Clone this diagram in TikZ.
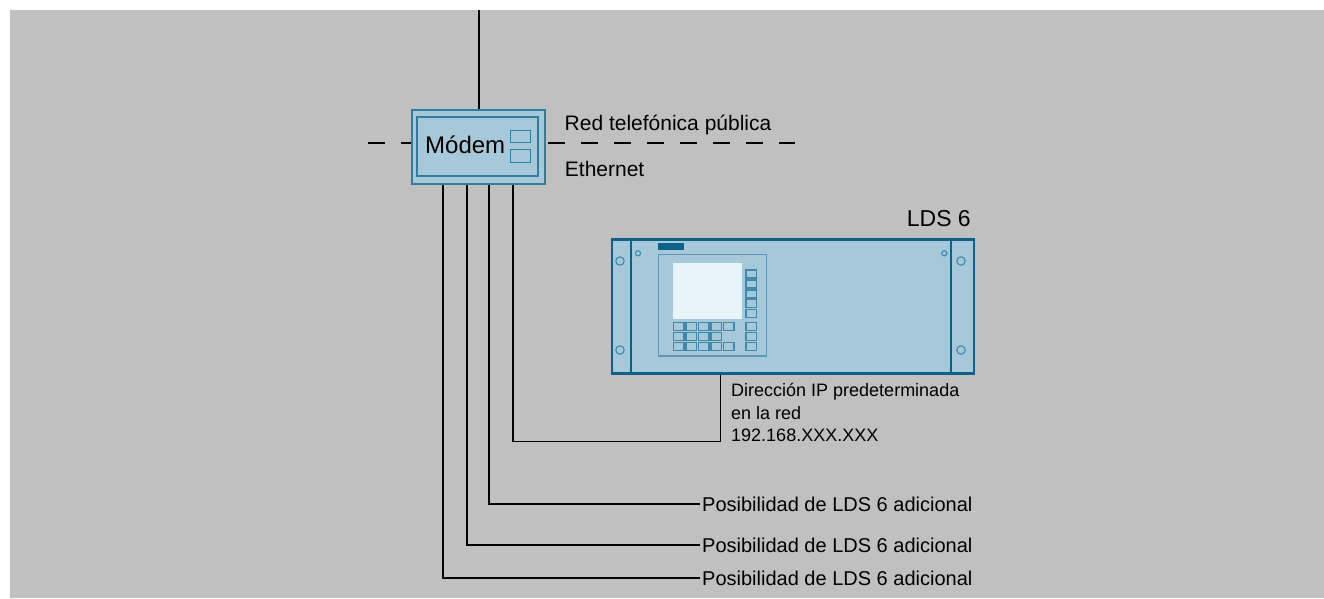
\documentclass[tikz,border=0pt]{standalone}
\usepackage{fontspec}
\setmainfont{Liberation Sans}
\begin{document}
\begin{tikzpicture}[x=1pt,y=-1pt]
\definecolor{bg}{HTML}{C0C0C0}
\definecolor{devfill}{HTML}{A6C8D8}
\definecolor{devedge}{HTML}{0B6188}
\definecolor{modemedge}{HTML}{2E7FA0}
\definecolor{keyedge}{HTML}{3F89AA}
\definecolor{paneledge}{HTML}{5C98B6}
\definecolor{screenfill}{HTML}{E7F5FA}
\tikzset{
  wire/.style={black, line width=1.3pt},
  txt/.style={inner sep=0pt, font=\fontsize{21}{25}\selectfont},
  optlbl/.style={inner xsep=2pt, inner ysep=0pt, anchor=west, font=\fontsize{20}{24}\selectfont},
  keybox/.style={draw=keyedge, line width=1.2pt},
  hole/.style={draw=keyedge, line width=1.1pt},
}
\useasboundingbox (0,0) rectangle (1324,598);
\fill[bg] (10,10) rectangle (1324,598);

% modem
\node[draw=modemedge, fill=devfill, line width=2pt, minimum width=133, minimum height=74,
      inner sep=0pt, anchor=north west] (modem) at (411,109) {};
\draw[modemedge, line width=2pt] (417,117) rectangle (538,176);
\draw[modemedge, line width=1.6pt] (510.5,130.5) rectangle (530.5,142.5)
                                   (510.5,149.5) rectangle (530.5,162.5);
\node[txt, anchor=base west, font=\fontsize{24}{28}\selectfont] (modemlbl) at (425,153.3) {Módem};

% uplink and telephone network
\draw[wire] ([xshift=68]modem.north west) -- ++(0,-99);
\coordinate (dl) at (368,143);
\coordinate (dr) at (795,143);
\draw[wire, dash pattern=on 17pt off 16pt] (dl) -- (dl -| modem.west);
\draw[wire, dash pattern=on 17pt off 16pt] ([xshift=2]dr -| modem.east) -- (dr);
\node[txt, anchor=base west] (pstn) at (564.5,130) {Red telefónica pública};
\node[txt, anchor=base west] (eth) at (564.7,176) {Ethernet};

% LDS 6 unit
\node[draw=devedge, fill=devfill, line width=2.4pt, minimum width=362, minimum height=134,
      inner sep=0pt, anchor=north west] (lds) at (610.5,238.2) {};
\node[txt, anchor=base east, font=\fontsize{23}{27}\selectfont] (ldslbl) at (971,226.7) {LDS 6};
\draw[devedge, line width=1.4pt] (631,238) -- (631,372) (951,238) -- (951,372);
\draw[hole] (620,261) circle (4.2) (620,350) circle (4.2) (961,261) circle (4.2) (961,350) circle (4.2);
\draw[hole] (638,253.3) circle (2.6) (944.3,253.3) circle (2.6);
\fill[devedge] (658,242.7) rectangle (684,250);
\draw[paneledge, line width=1.5pt] (658.5,254.5) rectangle (766.5,356);
\fill[screenfill] (672.7,262.7) rectangle (742,318.7);
\foreach \y in {270,280,290,299.7,309.7,322.7,332.3,342.3}
  \draw[keybox] (746,\y) rectangle ++(10.7,8);
\foreach \x in {673.3,686,698.3,711,723.3}
  \draw[keybox] (\x,322.7) rectangle ++(10.7,8) (\x,342.3) rectangle ++(10.7,8);
\foreach \x in {673.3,686,698.3,711}
  \draw[keybox] (\x,332.3) rectangle ++(10.7,8);

% network address note
\node[inner sep=0pt, anchor=north west, align=left, font=\fontsize{18}{22.5}\selectfont] (ip)
  at (731,383.5) {Dirección IP predeterminada\\en la red\\192.168.XXX.XXX};

% Ethernet drops
\draw[wire] ([xshift=110]lds.south west) -- ++(0,67) -| ([xshift=102]modem.south west);
\node[optlbl] (p1) at (700,504) {Posibilidad de LDS 6 adicional};
\node[optlbl] (p2) at (700,545) {Posibilidad de LDS 6 adicional};
\node[optlbl] (p3) at (700,578) {Posibilidad de LDS 6 adicional};
\draw[wire] ([xshift=78]modem.south west) |- (p1.west);
\draw[wire] ([xshift=56]modem.south west) |- (p2.west);
\draw[wire] ([xshift=32]modem.south west) |- (p3.west);
\end{tikzpicture}
\end{document}
